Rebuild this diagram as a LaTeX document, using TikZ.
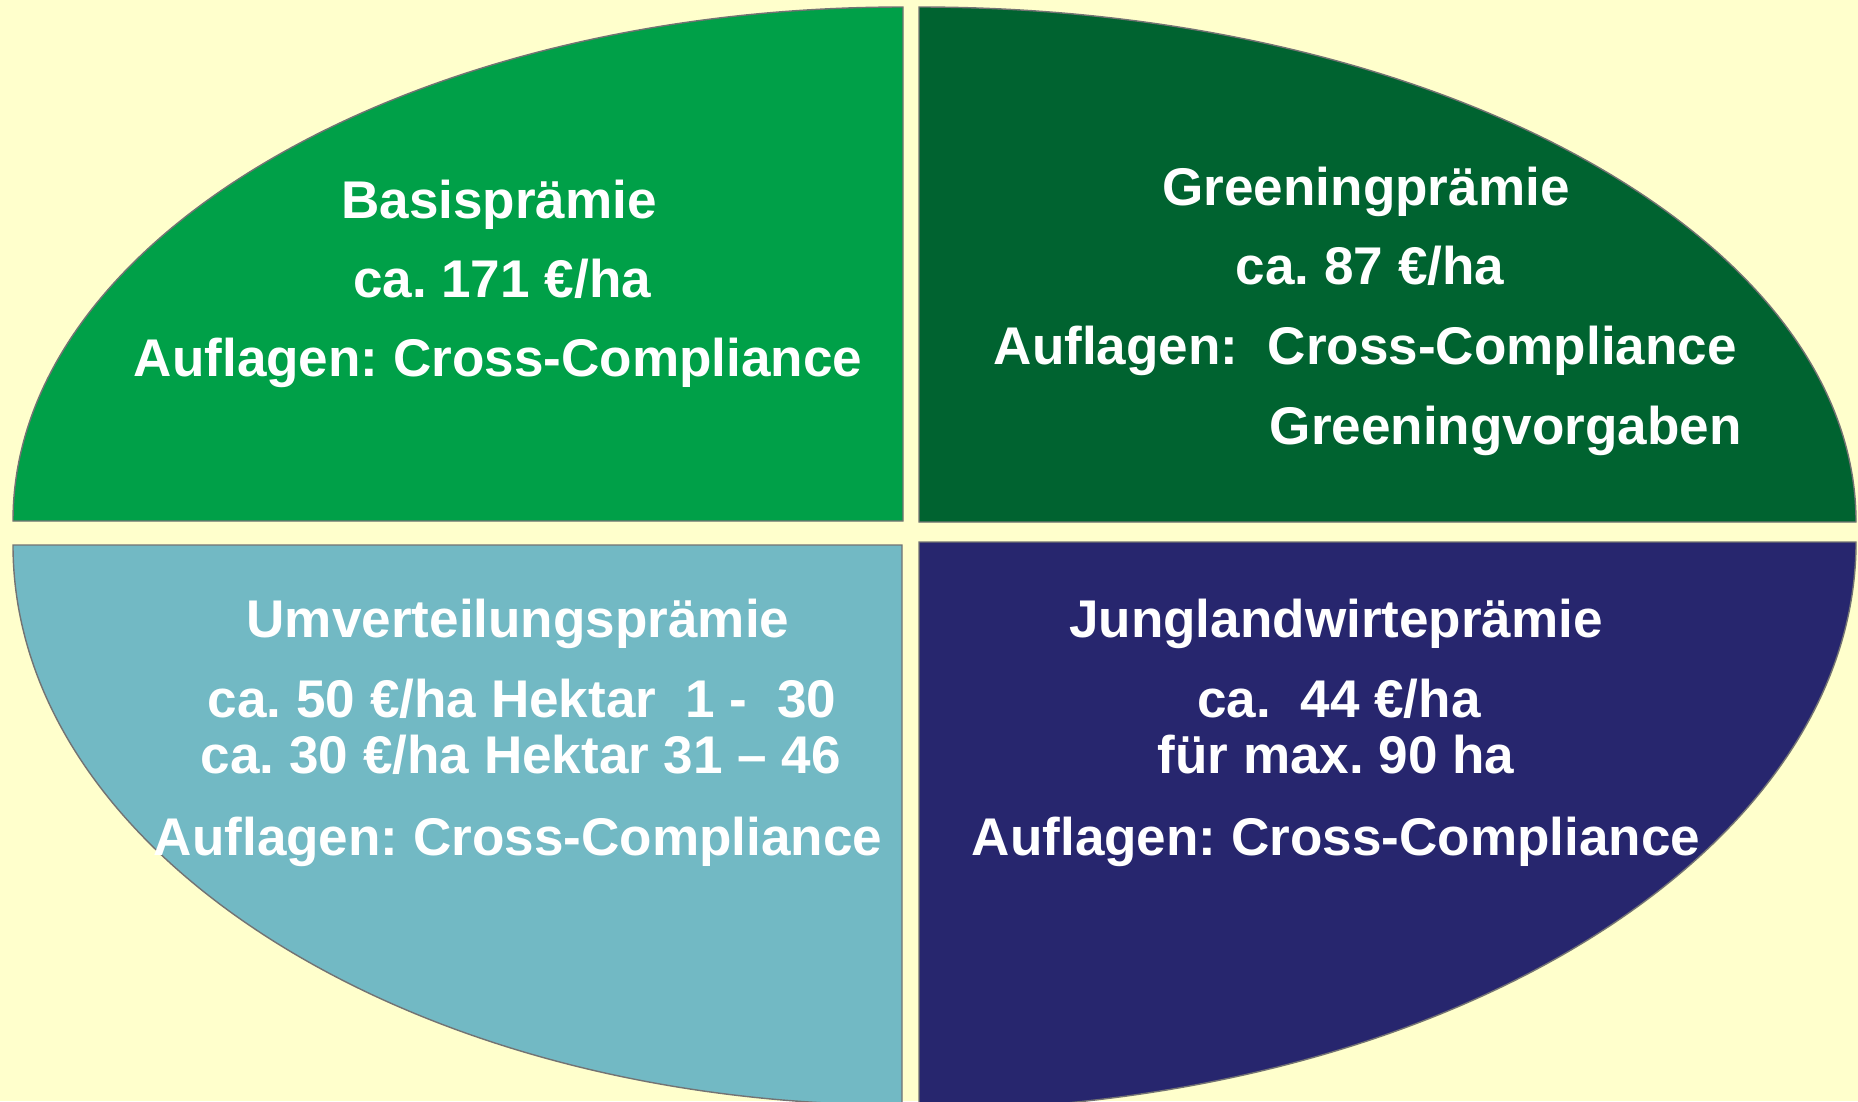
\documentclass[tikz,border=0pt]{standalone}
\usepackage{fontspec}
\setmainfont{Liberation Sans}
\usepackage{tikz}
\usetikzlibrary{positioning}
\tikzset{
  quarter/.style = {draw=black!55, line width=0.4pt},
  prem_t/.style = {inner sep=0pt, anchor=base, text=white,
  font=\fontsize{15.1}{18}\selectfont\bfseries}
}
\definecolor{my_bg}{RGB}{255, 255, 204}
\definecolor{my_green}{RGB}{0, 160, 72}
\definecolor{my_dgreen}{RGB}{0, 99, 48}
\definecolor{my_teal}{RGB}{114, 185, 196}
\definecolor{my_navy}{RGB}{39, 38, 110}

\begin{document}
\frenchspacing
\begin{tikzpicture}[x=0.1mm, y=0.1mm,
        basis/.style={quarter, fill=my_green},
        greening/.style={quarter, fill=my_dgreen},
        umvert/.style={quarter, fill=my_teal},
        jung/.style={quarter, fill=my_navy}]
    \fill[my_bg] (0,0) rectangle (1858,-1101);
    \clip (0,0) rectangle (1858,-1101);
    % the four quarters
    \draw[basis] (903,-521) -- (13,-521) arc[start angle=180, end angle=90, x radius=890, y radius=514] -- cycle;
    \draw[greening] (919,-522) -- (919,-7) arc[start angle=90, end angle=0, x radius=937, y radius=515] -- cycle;
    \draw[umvert] (902,-545) -- (13,-545) arc[start angle=180, end angle=270, x radius=889, y radius=560] -- cycle;
    \draw[jung] (919,-542) -- (1856,-542) arc[start angle=0, end angle=-90, x radius=937, y radius=568] -- cycle;
    % texts
    \node[prem_t] (basis_n) at (499,-218) {Basisprämie};
    \node[prem_t] (basis_p) at (502,-297) {ca. 171 €/ha};
    \node[prem_t] (basis_a) at (498,-376) {Auflagen: Cross-Compliance};
    \node[prem_t] (green_n) at (1366,-205) {Greeningprämie};
    \node[prem_t] (green_p) at (1370,-284) {ca. 87 €/ha};
    \node[prem_t, anchor=base west] (green_a) at (993,-364) {Auflagen:\ \ Cross-Compliance};
    \node[prem_t, anchor=base west] (green_v) at (1269,-444) {Greeningvorgaben};
    \node[prem_t] (umv_n) at (518,-637) {Umverteilungsprämie};
    \node[prem_t] (umv_p1) at (522,-717) {ca. 50 €/ha Hektar\ \ 1 -\ \ 30};
    \node[prem_t] (umv_p2) at (521,-773) {ca. 30 €/ha Hektar 31 – 46};
    \node[prem_t] (umv_a) at (518,-855) {Auflagen: Cross-Compliance};
    \node[prem_t] (jung_n) at (1336,-637) {Junglandwirteprämie};
    \node[prem_t] (jung_p1) at (1339,-717) {ca.\ \ 44 €/ha};
    \node[prem_t] (jung_p2) at (1336,-773) {für max. 90 ha};
    \node[prem_t] (jung_a) at (1336,-855) {Auflagen: Cross-Compliance};
\end{tikzpicture}
\end{document}
